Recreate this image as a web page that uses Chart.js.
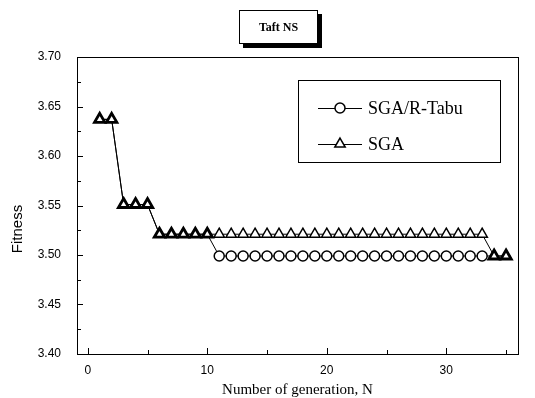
<!DOCTYPE html>
<html>
<head>
<meta charset="utf-8">
<script src="https://cdn.jsdelivr.net/npm/chart.js@4"></script>
<style>
  html, body { margin: 0; padding: 0; background: #fff; }
  #wrap { position: relative; width: 535px; height: 398px; }
  #titleBox {
    position: absolute; left: 239px; top: 10px; width: 77px; height: 32px;
    border: 1px solid #000; background: #fff; box-shadow: 4px 4px 0 #000;
    font: bold 12px "Liberation Serif", "Times New Roman", serif;
    display: flex; align-items: center; justify-content: center; color: #000;
  }
</style>
</head>
<body>
<div id="wrap">
  <canvas id="grafico" width="535" height="398"></canvas>
  <div id="titleBox">Taft NS</div>
</div>
<script>
// dados
const geracoes = [1, 2, 3, 4, 5, 6, 7, 8, 9, 10, 11, 12, 13, 14, 15, 16, 17, 18, 19, 20,
                  21, 22, 23, 24, 25, 26, 27, 28, 29, 30, 31, 32, 33, 34, 35];
const sgaTabu = [3.637, 3.637, 3.551, 3.551, 3.551, 3.521, 3.521, 3.521, 3.521, 3.521,
                 3.499, 3.499, 3.499, 3.499, 3.499, 3.499, 3.499, 3.499, 3.499, 3.499,
                 3.499, 3.499, 3.499, 3.499, 3.499, 3.499, 3.499, 3.499, 3.499, 3.499,
                 3.499, 3.499, 3.499, 3.499, 3.499];
const sga = [3.637, 3.637, 3.551, 3.551, 3.551, 3.521, 3.521, 3.521, 3.521, 3.521,
             3.521, 3.521, 3.521, 3.521, 3.521, 3.521, 3.521, 3.521, 3.521, 3.521,
             3.521, 3.521, 3.521, 3.521, 3.521, 3.521, 3.521, 3.521, 3.521, 3.521,
             3.521, 3.521, 3.521, 3.499, 3.499];
const xTicks = [0, 10, 20, 30];
const xMinor = [0, 5, 10, 15, 20, 25, 30, 35];
const yTicks = [3.40, 3.45, 3.50, 3.55, 3.60, 3.65, 3.70];
const yMinor = [3.40, 3.425, 3.45, 3.475, 3.50, 3.525, 3.55, 3.575, 3.60, 3.625, 3.65, 3.675, 3.70];
const nomes = ['SGA/R-Tabu', 'SGA'];

const sans = '"Liberation Sans", Arial, sans-serif';
const serif = '"Liberation Serif", "Times New Roman", serif';

// onde as duas curvas coincidem o marcador fica como triangulo grosso
function igual(ctx) {
    return sgaTabu[ctx.dataIndex] === sga[ctx.dataIndex];
}

const moldura = {
    id: 'moldura',
    afterDraw(chart) {
        const ctx = chart.ctx;
        const a = chart.chartArea;
        const x = chart.scales.x, y = chart.scales.y;
        ctx.save();
        ctx.strokeStyle = '#000';
        ctx.lineWidth = 1;
        ctx.strokeRect(a.left + 0.5, a.top + 0.5, a.right - a.left, a.bottom - a.top);
        ctx.beginPath();
        yMinor.forEach(v => {
            const py = Math.round(y.getPixelForValue(v)) + 0.5;
            const len = yTicks.some(t => Math.abs(t - v) < 1e-6) ? 6 : 4;
            ctx.moveTo(a.left, py);
            ctx.lineTo(a.left + len, py);
        });
        xMinor.forEach(v => {
            const px = Math.round(x.getPixelForValue(v)) + 0.5;
            const len = xTicks.includes(v) ? 6 : 4;
            ctx.moveTo(px, a.bottom);
            ctx.lineTo(px, a.bottom - len);
        });
        ctx.stroke();

        // titulo do eixo y
        ctx.fillStyle = '#000';
        ctx.font = '15px ' + sans;
        ctx.textAlign = 'center';
        ctx.textBaseline = 'middle';
        ctx.translate(18, 229);
        ctx.rotate(-Math.PI / 2);
        ctx.fillText('Fitness', 0, 0);
        ctx.restore();

        // legenda
        ctx.save();
        ctx.strokeStyle = '#000';
        ctx.fillStyle = '#fff';
        ctx.lineWidth = 1;
        ctx.fillRect(298, 80, 202, 82);
        ctx.strokeRect(298.5, 80.5, 202, 82);
        const estilos = ['circle', 'triangle'];
        const raios = [5, 6];
        [108, 144].forEach((ly, i) => {
            ctx.beginPath();
            ctx.moveTo(318, ly + 0.5);
            ctx.lineTo(362, ly + 0.5);
            ctx.lineWidth = 1;
            ctx.strokeStyle = '#000';
            ctx.stroke();
            ctx.fillStyle = '#fff';
            ctx.lineWidth = 1.5;
            Chart.helpers.drawPoint(ctx, { pointStyle: estilos[i], radius: raios[i], rotation: 0, borderWidth: 1.5 }, 340, ly);
            ctx.fillStyle = '#000';
            ctx.font = '18px ' + serif;
            ctx.textAlign = 'left';
            ctx.textBaseline = 'middle';
            ctx.fillText(nomes[i], 368, ly + 1);
        });
        ctx.restore();
    }
};

var ctx = document.getElementById('grafico');
var grafico = new Chart(ctx, {
    type: 'line',
    data: {
        labels: geracoes,
        datasets: [{
            label: nomes[0],
            data: geracoes.map((g, i) => ({ x: g, y: sgaTabu[i] })),
            borderColor: '#000',
            borderWidth: 1,
            backgroundColor: '#fff',
            pointBackgroundColor: '#fff',
            pointBorderColor: '#000',
            pointStyle: c => igual(c) ? 'triangle' : 'circle',
            pointRadius: c => igual(c) ? 6 : 5,
            pointBorderWidth: c => igual(c) ? 2.8 : 1.5,
            tension: 0,
            order: 1
        }, {
            label: nomes[1],
            data: geracoes.map((g, i) => ({ x: g, y: sga[i] })),
            borderColor: '#000',
            borderWidth: 1,
            backgroundColor: '#fff',
            pointBackgroundColor: '#fff',
            pointBorderColor: '#000',
            pointStyle: 'triangle',
            pointRadius: 6,
            pointBorderWidth: 1.5,
            tension: 0,
            order: 2
        }]
    },
    options: {
        responsive: false,
        animation: false,
        events: [],
        layout: { padding: { left: 0, right: 17, top: 57, bottom: 0 } },
        plugins: {
            legend: { display: false },
            tooltip: { enabled: false }
        },
        scales: {
            x: {
                type: 'linear',
                min: -0.9,
                max: 36,
                afterBuildTicks: s => { s.ticks = xTicks.map(v => ({ value: v })); },
                afterFit: s => { s.height = 44; },
                grid: { display: false, drawTicks: false },
                border: { display: false },
                ticks: { color: '#000', padding: 9, maxRotation: 0, font: { family: sans, size: 12 } },
                title: {
                    display: true,
                    text: 'Number of generation, N',
                    color: '#000',
                    font: { family: serif, size: 15, lineHeight: 1 },
                    padding: { top: 0, bottom: 0 }
                }
            },
            y: {
                min: 3.4,
                max: 3.7,
                afterBuildTicks: s => { s.ticks = yTicks.map(v => ({ value: v })); },
                afterFit: s => { s.width = 77; },
                grid: { display: false, drawTicks: false },
                border: { display: false },
                ticks: {
                    color: '#000',
                    padding: 16,
                    font: { family: sans, size: 12 },
                    callback: v => v.toFixed(2)
                }
            }
        }
    },
    plugins: [moldura]
});
</script>
</body>
</html>
